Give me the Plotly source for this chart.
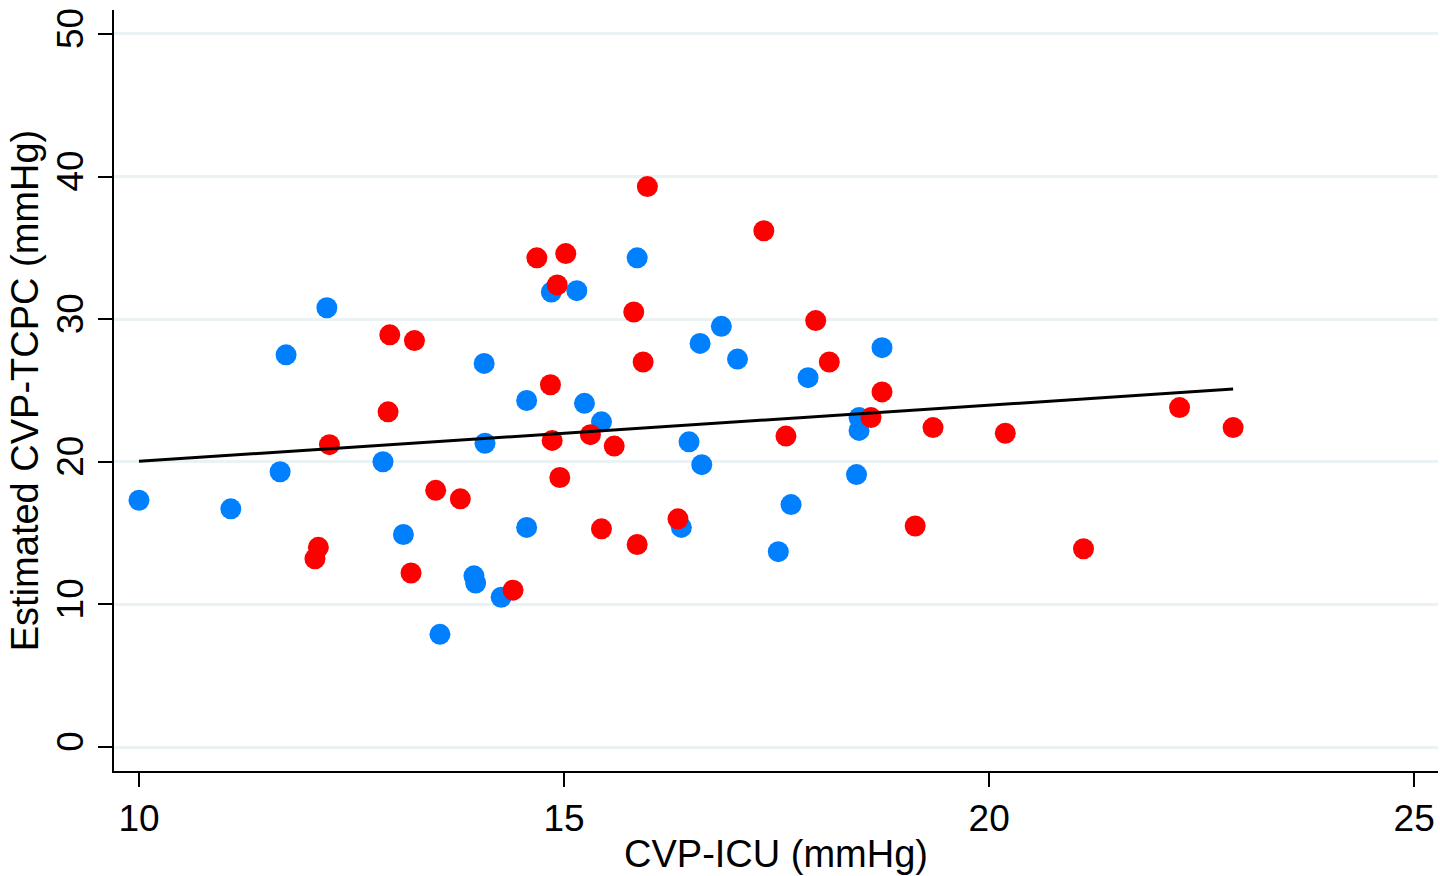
import numpy as np
import plotly.graph_objects as go

# Group 1 (blue)
blue_x = [10.0, 11.08, 11.66, 11.73, 12.21, 12.87, 13.11, 13.54, 13.94, 13.96, 14.06,
          14.07, 14.26, 14.56, 14.56, 14.85, 15.15, 15.24, 15.44, 15.86, 16.38, 16.47,
          16.6, 16.62, 16.85, 17.04, 17.52, 17.67, 17.87, 18.44, 18.47, 18.47, 18.74]
blue_y = [17.3, 16.7, 19.3, 27.5, 30.8, 20.0, 14.9, 7.9, 12.0, 11.5, 26.9,
          21.3, 10.5, 24.3, 15.4, 31.9, 32.0, 24.1, 22.8, 34.3, 15.4, 21.4,
          28.3, 19.8, 29.5, 27.2, 13.7, 17.0, 25.9, 19.1, 23.1, 22.2, 28.0]

# Group 2 (red)
red_x = [12.07, 12.11, 12.24, 12.93, 12.95, 13.2, 13.24, 13.49, 13.78, 14.4, 14.68,
         14.84, 14.86, 14.92, 14.95, 15.02, 15.31, 15.44, 15.59, 15.82, 15.86, 15.93,
         15.98, 16.34, 17.35, 17.61, 17.96, 18.12, 18.61, 18.74, 19.13, 19.34, 20.19,
         21.11, 22.24, 22.87]
red_y = [13.2, 14.0, 21.2, 23.5, 28.9, 12.2, 28.5, 18.0, 17.4, 11.0, 34.3,
         25.4, 21.5, 32.4, 18.9, 34.6, 21.9, 15.3, 21.1, 30.5, 14.2, 27.0,
         39.3, 16.0, 36.2, 21.8, 29.9, 27.0, 23.1, 24.9, 15.5, 22.4, 22.0,
         13.9, 23.8, 22.4]

x_ticks = [10, 15, 20, 25]
y_ticks = [0, 10, 20, 30, 40, 50]
x_title = "CVP-ICU (mmHg)"
y_title = "Estimated CVP-TCPC (mmHg)"

all_x = np.array(blue_x + red_x)
all_y = np.array(blue_y + red_y)
slope, intercept = np.polyfit(all_x, all_y, 1)
fit_x = np.array([all_x.min(), all_x.max()])
fit_y = intercept + slope * fit_x

font_family = "Liberation Sans, Arial, sans-serif"

fig = go.Figure()
fig.add_trace(go.Scatter(x=blue_x, y=blue_y, mode="markers",
                         marker=dict(color="#0080FF", size=21, line=dict(width=0)),
                         showlegend=False))
fig.add_trace(go.Scatter(x=red_x, y=red_y, mode="markers",
                         marker=dict(color="#FF0000", size=21, line=dict(width=0)),
                         showlegend=False))
fig.add_trace(go.Scatter(x=fit_x, y=fit_y, mode="lines",
                         line=dict(color="black", width=3),
                         showlegend=False))

fig.update_layout(
    width=1440, height=876,
    margin=dict(l=114, r=2, t=10, b=105, autoexpand=False),
    paper_bgcolor="white", plot_bgcolor="white",
    font=dict(family=font_family, size=38, color="black"),
)
fig.update_xaxes(
    range=[9.706, 25.28], tickvals=x_ticks, ticks="outside", ticklen=14,
    tickwidth=1.5, tickcolor="black", showline=True, linecolor="black", linewidth=2,
    showgrid=False, zeroline=False, automargin=False,
    title=dict(text=x_title, font=dict(size=38), standoff=2),
    tickfont=dict(size=37),
)
fig.update_yaxes(
    range=[-1.683, 51.68], tickvals=y_ticks, ticks="outside", ticklen=14,
    tickwidth=1.5, tickcolor="black", showline=True, linecolor="black", linewidth=2,
    showgrid=True, gridcolor="#EAF2F3", gridwidth=2.5, zeroline=False,
    tickangle=-90, automargin=False,
    title=dict(text=y_title, font=dict(size=38), standoff=0),
    tickfont=dict(size=37),
)

fig.write_html(
    "out.html",
    config={"displayModeBar": False},
    post_script="document.body.style.margin='0';document.body.style.overflow='hidden';",
)
